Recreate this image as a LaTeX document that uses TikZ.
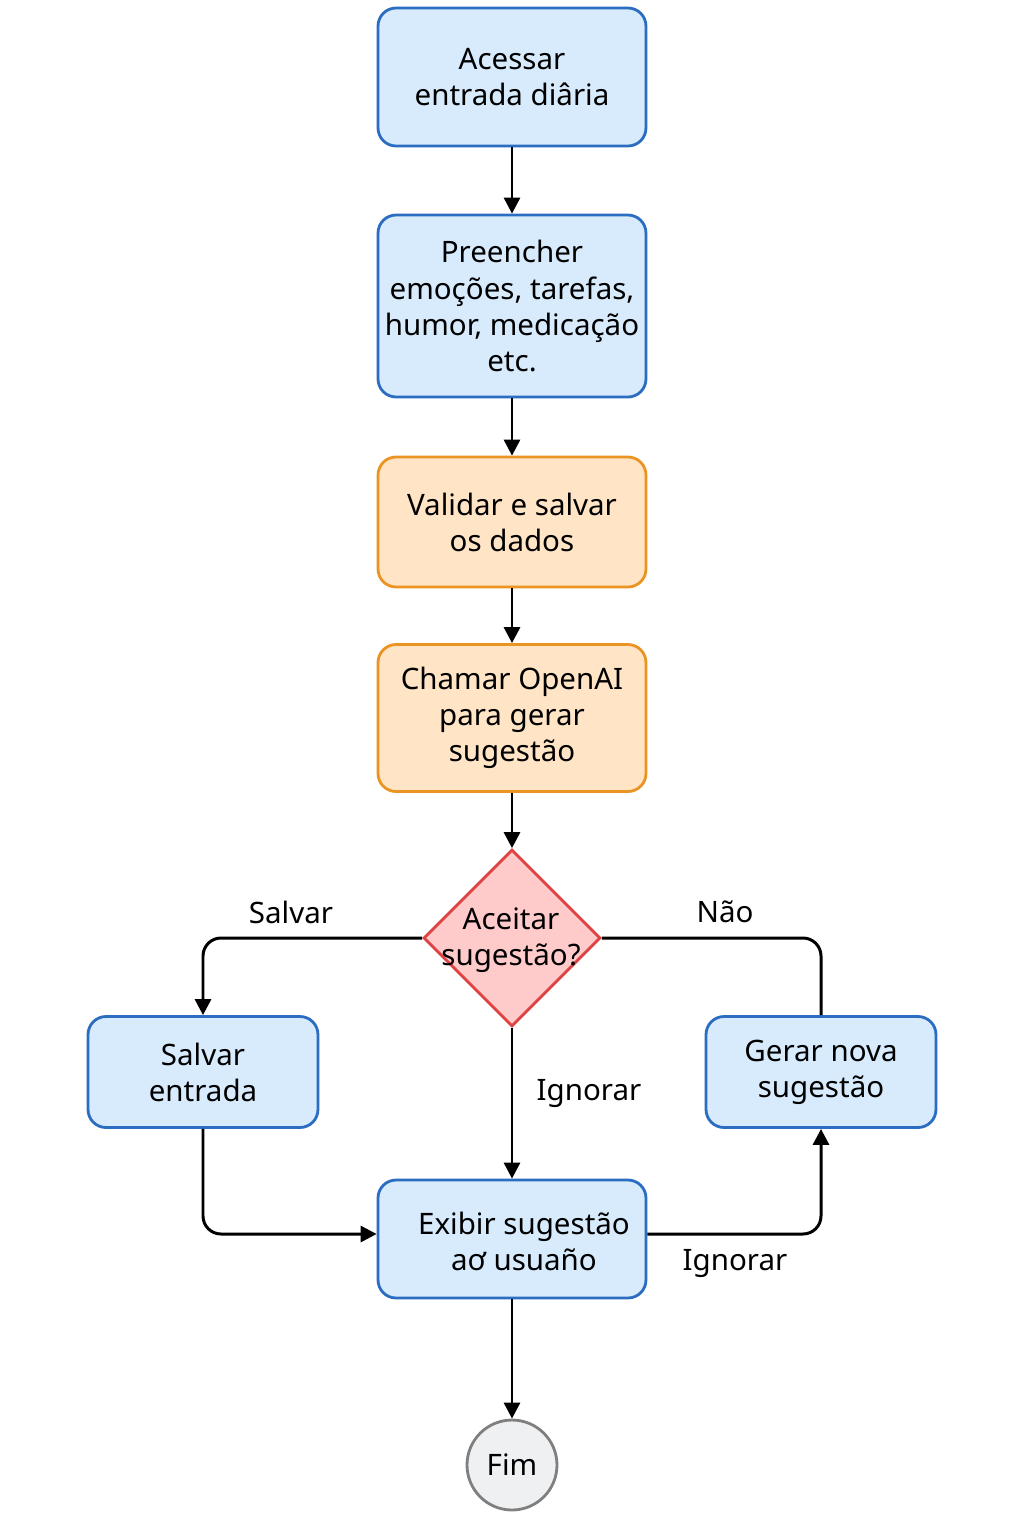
\documentclass[tikz,border=0pt]{standalone}
\usepackage{fontspec}
\setmainfont{Noto Sans}
\usetikzlibrary{shapes.geometric,arrows.meta}
\definecolor{bfill}{HTML}{D7EBFC}
\definecolor{bdraw}{HTML}{2B6DC0}
\definecolor{ofill}{HTML}{FFE4C6}
\definecolor{odraw}{HTML}{EA9424}
\definecolor{rfill}{HTML}{FFCACA}
\definecolor{rdraw}{HTML}{DE4343}
\definecolor{gfill}{HTML}{EFF0F2}
\definecolor{gdraw}{HTML}{7F7F7F}
\tikzset{
  txt/.style={font=\fontsize{16.8}{20.5}\selectfont, align=center, text=black},
  bluebox/.style={txt, draw=bdraw, fill=bfill, line width=1.6pt, rounded corners=0.36cm, minimum width=5.36cm, inner sep=0pt},
  orangebox/.style={txt, draw=odraw, fill=ofill, line width=1.6pt, rounded corners=0.36cm, minimum width=5.36cm, inner sep=0pt},
  conn/.style={line width=1.7pt, draw=black, rounded corners=0.36cm},
  arr/.style={conn, -{Triangle[length=0.32cm,width=0.32cm]}},
  lbl/.style={txt}
}
\begin{document}
\begin{tikzpicture}[x=0.02cm,y=-0.02cm]
\useasboundingbox (0,0) rectangle (1024,1536);
\node[bluebox, minimum height=2.76cm] (acc) at (512,77) {Acessar\\entrada diâria};
\node[bluebox, minimum height=3.64cm] (pre) at (512,306) {Preencher\\emoções, tarefas,\\humor, medicação\\etc.};
\node[orangebox, minimum height=2.6cm] (val) at (512,522) {Validar e salvar\\os dados};
\node[orangebox, minimum height=2.94cm] (cha) at (512,718) {Chamar OpenAI\\para gerar\\sugestão};
\node[diamond, draw=rdraw, fill=rfill, line width=1.6pt, minimum width=3.54cm, minimum height=3.54cm, inner sep=0pt] (dia) at (512,938) {};
\node[txt] (diatxt) at (511,940) {Aceitar\\sugestão?};
\node[bluebox, minimum width=4.6cm, minimum height=2.22cm] (salv) at (203,1072) {Salvar\\entrada};
\node[bluebox, minimum width=4.6cm, minimum height=2.22cm] (ger) at (821,1072) {Gerar nova\\sugestão};
\node[bluebox, minimum height=2.36cm] (exi) at (512,1239) {};
\node[txt] (exitxt) at (524,1241) {Exibir sugestão\\aơ usuaño};
\node[circle, draw=gdraw, fill=gfill, line width=1.6pt, minimum size=1.8cm, inner sep=0pt, txt] (fim) at (512,1465) {Fim};

\draw[arr] (acc) -- (pre);
\draw[arr] (pre) -- (val);
\draw[arr] (val) -- (cha);
\draw[arr] (cha) -- (dia);
\draw[arr] (dia.west) -| (salv.north);
\draw[conn] (dia.east) -| (ger.north);
\draw[arr] (dia.south) -- (exi.north);
\draw[arr] (salv.south) |- ([yshift=0.1cm]exi.west);
\draw[arr] ([yshift=0.1cm]exi.east) -| (ger.south);
\draw[arr] (exi.south) -- (fim.north);

\node[lbl] (l1) at (291,912) {Salvar};
\node[lbl] (l2) at (725,912) {Não};
\node[lbl] (l3) at (589,1093) {Ignorar};
\node[lbl] (l4) at (735,1263) {Ignorar};
\end{tikzpicture}
\end{document}
